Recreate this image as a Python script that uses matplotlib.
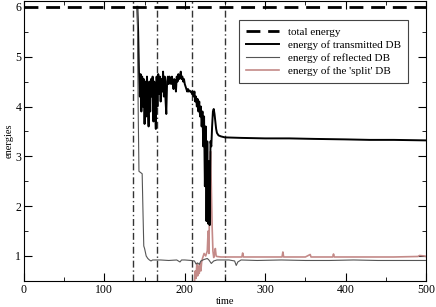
import matplotlib
matplotlib.use("Agg")
import matplotlib.pyplot as plt

# ---- data ----
total_t = [0, 500]
total_e = [6.0, 6.0]

trans_t = [141, 142, 143, 144, 145, 146, 147, 148, 149, 150, 151, 152, 153, 154,
           155, 156, 157, 158, 159, 160, 161, 162, 163, 164, 165, 166, 167, 168,
           169, 170, 171, 172, 173, 174, 175, 176, 177, 178, 179, 180, 181, 182,
           183, 184, 185, 186, 187, 188, 189, 190, 191, 192, 193, 194, 195, 196,
           197, 198, 199, 200, 201, 202, 203, 204, 205, 206, 207, 208, 209, 210,
           211, 212, 213, 214, 215, 216, 217, 218, 219, 220, 221, 222, 223, 224,
           225, 226, 227, 228, 229, 230, 231, 232, 233, 234, 235, 236, 237, 238,
           239, 240, 242, 245, 250, 270, 300, 330, 360, 400, 430, 460, 500]
trans_e = [6.0, 5.5, 4.70, 4.20, 4.65, 3.90, 4.60, 4.00, 4.55, 3.65, 4.50, 3.80, 4.60, 4.10,
           3.60, 4.50, 3.90, 4.55, 4.20, 4.60, 3.70, 4.50, 3.95, 3.55, 4.60, 4.00, 4.65, 4.25,
           4.60, 4.10, 4.55, 4.30, 4.70, 4.20, 4.60, 4.15, 3.85, 4.50, 4.60, 4.45, 4.60, 4.55,
           4.45, 4.60, 4.50, 4.35, 4.55, 4.50, 4.30, 4.60, 4.50, 4.65, 4.55, 4.60, 4.70, 4.55,
           4.60, 4.50, 4.55, 4.45, 4.40, 4.35, 4.30, 4.35, 4.30, 4.32, 4.30, 4.30, 4.25, 4.30,
           4.20, 4.30, 4.10, 4.20, 4.00, 4.15, 3.90, 4.10, 3.80, 4.00, 3.60, 3.90, 3.20, 3.80,
           2.40, 3.60, 1.70, 3.30, 1.65, 2.90, 1.62, 3.30, 3.20, 3.60, 3.90, 3.95, 3.85, 3.70,
           3.55, 3.47, 3.42, 3.40, 3.38, 3.37, 3.36, 3.36, 3.35, 3.34, 3.33, 3.33, 3.32]

refl_t = [141, 142, 143, 147, 148, 149, 150, 152, 154, 156, 158, 160, 170, 180, 190, 194,
          196, 200, 208, 212, 214, 216, 218, 220, 224, 228, 230, 233, 236, 240, 255, 262,
          264, 266, 270, 290, 320, 350, 380, 410, 440, 470, 500]
refl_e = [6.0, 4.0, 2.70, 2.65, 1.90, 1.20, 1.15, 1.00, 0.95, 0.92, 0.90, 0.92, 0.92, 0.91, 0.92, 0.88,
          0.92, 0.92, 0.91, 0.90, 0.84, 0.86, 0.83, 0.90, 0.93, 0.95, 0.92, 0.85, 0.90, 0.92, 0.92, 0.90,
          0.81, 0.88, 0.92, 0.91, 0.92, 0.91, 0.91, 0.92, 0.91, 0.91, 0.91]

split_t = [210, 212, 213, 214, 215, 216, 217, 218, 219, 220, 221, 222, 224, 226, 228, 229,
           230, 231, 232, 233, 234, 235, 236, 237, 238, 239, 240, 245, 260, 271, 272, 273,
           300, 321, 322, 323, 350, 356, 357, 384, 385, 386, 420, 460, 490, 492, 498, 500]
split_e = [0.30, 0.45, 0.70, 0.55, 0.85, 0.60, 0.80, 0.65, 0.85, 0.70, 0.88, 0.95, 1.05, 1.00, 1.10, 1.50,
           1.05, 2.20, 3.10, 2.40, 1.60, 1.10, 0.97, 1.05, 1.15, 1.00, 0.99, 0.98, 0.98, 0.98, 1.06, 0.98,
           0.98, 0.98, 1.08, 0.98, 0.98, 1.03, 0.98, 0.98, 1.04, 0.98, 0.98, 0.98, 0.99, 1.01, 1.00, 0.99]

vlines = [136, 165, 209.5, 249.5]

plt.rcParams['font.family'] = ['Liberation Serif', 'DejaVu Serif']

fig = plt.figure(figsize=(4.36, 3.07), dpi=100)
ax = fig.add_axes([0.055, 0.085, 0.922, 0.913])

for x in vlines:
    ax.axvline(x, color='#333333', lw=1.0, ls=(0, (5, 2, 1, 2)), zorder=1)

ax.plot(total_t, total_e, color='black', lw=2.0, ls=(0, (5, 2.8)), label='total energy', zorder=5)
ax.plot(trans_t, trans_e, color='black', lw=1.4, label='energy of transmitted DB', zorder=3)
ax.plot(refl_t, refl_e, color='#555555', lw=0.8, label='energy of reflected DB', zorder=3)
ax.plot(split_t, split_e, color='#c48a88', lw=1.2, label="energy of the 'split' DB", zorder=2)

ax.set_xlim(0, 500)
ax.set_ylim(0.5, 6.125)
ax.set_xticks([0, 100, 200, 300, 400, 500])
ax.set_xticks([50, 150, 250, 350, 450], minor=True)
ax.set_yticks([1, 2, 3, 4, 5, 6])
ax.set_yticks([1.5, 2.5, 3.5, 4.5, 5.5], minor=True)
ax.tick_params(which='both', direction='in', top=True, right=True, labelsize=8.5, pad=2)
ax.tick_params(which='major', length=6)
ax.tick_params(which='minor', length=3)

ax.set_xlabel('time', fontsize=7.5, labelpad=1)
ax.set_ylabel('energies', fontsize=7.5, labelpad=1)

leg = ax.legend(loc='upper right', bbox_to_anchor=(0.955, 0.93), borderaxespad=0,
                fontsize=8, fancybox=False, framealpha=1, edgecolor='#444444',
                handlelength=3.0, labelspacing=0.3, borderpad=0.6)
leg.get_frame().set_linewidth(0.8)

fig.savefig('out.png', dpi=100)
